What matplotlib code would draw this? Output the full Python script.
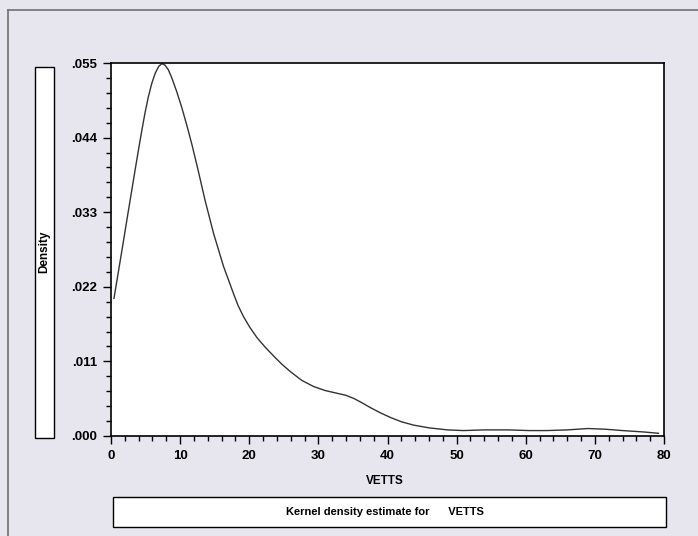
import numpy as np
import matplotlib
matplotlib.use("Agg")
import matplotlib.pyplot as plt
from matplotlib.patches import Rectangle
from matplotlib.lines import Line2D
from matplotlib.ticker import MultipleLocator

plt.rcParams['font.family'] = ['Liberation Sans Narrow', 'Liberation Sans', 'DejaVu Sans']

# kernel density curve
vetts = [0.43, 1.0, 1.78, 2.4, 3.0, 3.5, 3.96, 4.45, 4.93, 5.4, 5.9, 6.4, 6.9, 7.35,
         7.8, 8.3, 8.8, 9.5, 10.25, 11.0, 11.7, 12.6, 13.62, 14.83, 16.28, 17.72,
         18.4, 19.17, 20.1, 21.12, 22.3, 23.52, 24.7, 25.94, 27.6, 29.3, 31.0,
         32.7, 34.0, 35.2, 36.3, 37.5, 39.0, 40.5, 42.0, 43.8, 46.0, 48.7, 51.0,
         54.0, 57.5, 60.5, 63.0, 66.0, 69.0, 71.5, 74.0, 77.0, 79.2]
density = [0.0203, 0.0238, 0.0286, 0.0325, 0.0362, 0.0393, 0.0421, 0.0450, 0.0477,
           0.0500, 0.0520, 0.0535, 0.0545, 0.0549, 0.0547, 0.0540, 0.0528, 0.0508,
           0.0484, 0.0457, 0.0430, 0.0392, 0.0347, 0.0299, 0.0250, 0.0210, 0.0192,
           0.0176, 0.0160, 0.0145, 0.0131, 0.0118, 0.0106, 0.0095, 0.0082, 0.0073,
           0.0067, 0.0063, 0.0060, 0.0055, 0.0049, 0.0042, 0.0034, 0.0027, 0.0021,
           0.0016, 0.0012, 0.0009, 0.0008, 0.0009, 0.0009, 0.0008, 0.0008, 0.0009,
           0.0011, 0.0010, 0.0008, 0.0006, 0.0004]

x_ticks = [0, 10, 20, 30, 40, 50, 60, 70, 80]
y_ticks = [0.000, 0.011, 0.022, 0.033, 0.044, 0.055]
y_labels = ['.000', '.011', '.022', '.033', '.044', '.055']

bg = '#e7e5ed'
fig = plt.figure(figsize=(6.98, 5.36), dpi=100, facecolor=bg)
W, H = 698.0, 536.0

def fx(px):
    return px / W

def fy(py):
    return 1 - py / H

ax = fig.add_axes([fx(111), fy(436), fx(664) - fx(111), fy(63) - fy(436)])
ax.set_facecolor('white')
ax.plot(vetts, density, color='#333333', lw=1.0)
ax.set_xlim(0, 80)
ax.set_ylim(0, 0.055)
ax.set_xticks(x_ticks)
ax.set_xticklabels([str(t) for t in x_ticks])
ax.set_yticks(y_ticks)
ax.set_yticklabels(y_labels)
ax.xaxis.set_minor_locator(MultipleLocator(2))
ax.yaxis.set_minor_locator(MultipleLocator(0.0022))
ax.tick_params(which='major', length=6, width=1, direction='out', pad=4,
               labelsize=9.5)
ax.tick_params(which='minor', length=3.5, width=1, direction='out')
for lab in ax.get_xticklabels() + ax.get_yticklabels():
    lab.set_fontweight('bold')
for s in ax.spines.values():
    s.set_linewidth(1.2)
    s.set_color('black')

# outer frame
fig.add_artist(Line2D([fx(8), fx(8)], [fy(10), 0], transform=fig.transFigure,
                      color='#707070', lw=1.2))
fig.add_artist(Line2D([fx(8), 1], [fy(10), fy(10)], transform=fig.transFigure,
                      color='#707070', lw=1.2))

# y label box
fig.add_artist(Rectangle((fx(35), fy(438)), fx(54) - fx(35), fy(67) - fy(438),
                         transform=fig.transFigure, facecolor='white',
                         edgecolor='black', lw=1.0))
fig.text(fx(44.5), fy(252), 'Density', rotation=90, ha='center', va='center',
         fontsize=8.5, fontweight='bold')

# x label
fig.text(fx(385), fy(481), 'VETTS', ha='center', va='center',
         fontsize=8.5, fontweight='bold')

# title box
fig.add_artist(Rectangle((fx(113), fy(527)), fx(666) - fx(113), fy(497) - fy(527),
                         transform=fig.transFigure, facecolor='white',
                         edgecolor='black', lw=1.0))
fig.text(fx(385), fy(512), 'Kernel density estimate for      VETTS',
         ha='center', va='center', fontsize=8, fontweight='bold')

fig.savefig('out.png', dpi=100, facecolor=bg)
